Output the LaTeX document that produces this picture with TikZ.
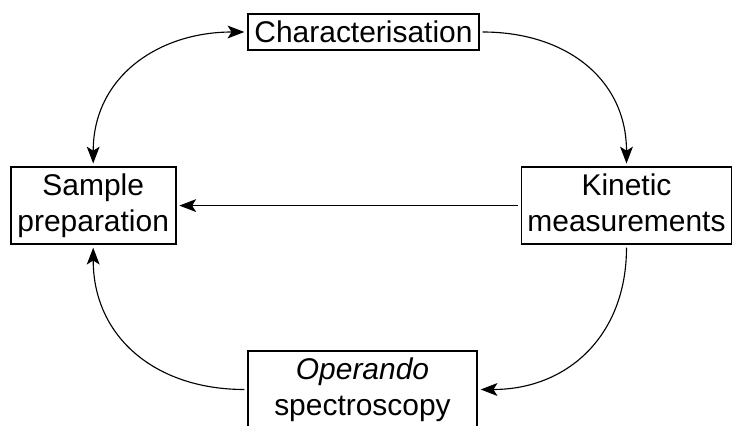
\documentclass[tikz,border=0pt]{standalone}
\usepackage{fontspec}
\setmainfont{Liberation Sans}
\usetikzlibrary{arrows.meta}

\begin{document}
\begin{tikzpicture}[x=0.025cm, y=-0.025cm]
\tikzset{boite/.style={draw, line width=1.3pt, inner sep=0pt, outer sep=0.09cm, align=center,
    font=\fontsize{21.3}{26.1}\selectfont},
  deuxlignes/.style={boite, minimum height=1.925cm, text height=1.47cm, text depth=0.16cm},
  pointe/.tip={Stealth[length=0.42cm, width=0.32cm, inset=0.1cm]},
  fleche/.style={line width=0.8pt, -pointe}}
\useasboundingbox (0, 0) rectangle (733, 426);
\clip (0, 0) rectangle (733, 426);
\node[boite, minimum width=5.775cm, minimum height=0.9cm] (Char) at (363.5, 32) {Characterisation};
\node[deuxlignes, minimum width=4.125cm] (Prep) at (93.2, 205.6) {Sample\\preparation};
\node[deuxlignes, minimum width=5.25cm] (Kin) at (626.5, 205.6) {Kinetic\\measurements};
\node[deuxlignes, minimum width=5.725cm] (Oper) at (362.5, 389.5) {\textit{Operando}\\spectroscopy};
\draw[fleche, pointe-pointe] (Prep.north) to[out=90, in=180, looseness=1.1] (Char.west);
\draw[fleche] (Char.east) to[out=0, in=90, looseness=1.1] (Kin.north);
\draw[fleche] (Kin.west) -- (Prep.east);
\draw[fleche] (Kin.south) to[out=-90, in=0, looseness=1.1] (Oper.east);
\draw[fleche] (Oper.west) to[out=180, in=-90, looseness=1.1] (Prep.south);
\end{tikzpicture}
\end{document}
